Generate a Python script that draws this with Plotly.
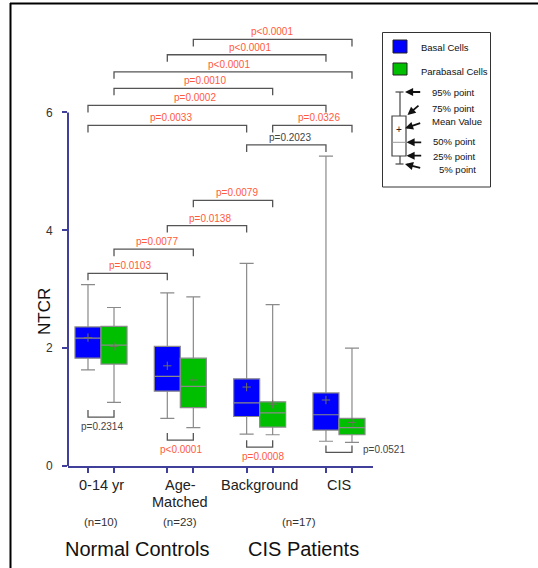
import plotly.graph_objects as go

# ---------------- data ----------------
groups = ["0-14 yr", "Age-\nMatched", "Background", "CIS"]
group_pos = [0, 1, 2, 3]

basal_upper = [3.08, 2.94, 3.44, 5.26]
basal_q3 = [2.36, 2.03, 1.48, 1.24]
basal_median = [2.17, 1.52, 1.07, 0.87]
basal_mean = [2.18, 1.70, 1.34, 1.12]
basal_q1 = [1.83, 1.27, 0.84, 0.61]
basal_lower = [1.63, 0.81, 0.54, 0.42]

para_upper = [2.69, 2.87, 2.74, 2.00]
para_q3 = [2.37, 1.83, 1.09, 0.81]
para_median = [2.05, 1.35, 0.90, 0.65]
para_mean = [2.03, 1.46, 1.05, 0.74]
para_q1 = [1.73, 0.99, 0.66, 0.53]
para_lower = [1.08, 0.65, 0.53, 0.40]

n_labels = ["(n=10)", "(n=23)", "(n=17)"]
n_pos = [0, 1, 2.49]
super_labels = ["Normal Controls", "CIS Patients"]
super_pos = [0.46, 2.55]

y_ticks = [0, 2, 4, 6]

# p-value brackets: (box index a, box index b, level, label, significant, label x shift px)
# box index: 2*g for basal, 2*g+1 for parabasal
top_brackets = [
    (3, 7, 7.24, "p<0.0001", True, -1),
    (2, 6, 6.98, "p<0.0001", True, 3),
    (1, 7, 6.69, "p<0.0001", True, -4),
    (1, 5, 6.41, "p=0.0010", True, 12),
    (0, 6, 6.12, "p=0.0002", True, -12),
    (0, 4, 5.78, "p=0.0033", True, 4),
    (5, 7, 5.78, "p=0.0326", True, 7),
    (4, 6, 5.45, "p=0.2023", False, 4),
    (3, 5, 4.51, "p=0.0079", True, 4),
    (2, 4, 4.08, "p=0.0138", True, 3),
    (1, 3, 3.68, "p=0.0077", True, 3),
    (0, 2, 3.27, "p=0.0103", True, 2),
]
bottom_brackets = [
    (0, 1, 0.83, "p=0.2314", False, 1),
    (2, 3, 0.44, "p<0.0001", True, 1),
    (4, 5, 0.32, "p=0.0008", True, 3),
]
side_brackets = [
    (6, 7, 0.23, "p=0.0521", False),
]

# ---------------- style / layout ----------------
W, H = 538, 568
ML, MR, MT, MB = 68, 165, 30, 102
PW, PH = W - ML - MR, H - MT - MB
YMAX = 7.4
XMIN, XMAX = -0.416, 3.429
OFF = 0.164
BW = 0.328
UPX = YMAX / PH  # data units per pixel

FONT = "Liberation Sans, Arial, sans-serif"
AXC = "#40409a"
RED = "#ff5a3c"
GREY_T = "#444444"
BRC = "#555555"
BOXLINE = "#8a8a8a"


def px2x(px):
    return (px - ML) / PW


def px2y(py):
    return (H - MB - py) / PH


def box_x(i):
    g = group_pos[i // 2]
    return g - OFF if i % 2 == 0 else g + OFF


fig = go.Figure()

basal_x = [g - OFF for g in group_pos]
para_x = [g + OFF for g in group_pos]

fig.add_trace(go.Box(
    x=basal_x, q1=basal_q1, median=basal_median, q3=basal_q3,
    lowerfence=basal_lower, upperfence=basal_upper,
    width=BW, whiskerwidth=0.54, fillcolor="#0000ff",
    line=dict(color=BOXLINE, width=1.2), name="Basal Cells", showlegend=False,
    hoverinfo="skip",
))
fig.add_trace(go.Box(
    x=para_x, q1=para_q1, median=para_median, q3=para_q3,
    lowerfence=para_lower, upperfence=para_upper,
    width=BW, whiskerwidth=0.54, fillcolor="#00bf00",
    line=dict(color=BOXLINE, width=1.2), name="Parabasal Cells", showlegend=False,
    hoverinfo="skip",
))
fig.add_trace(go.Scatter(
    x=basal_x + para_x, y=basal_mean + para_mean, mode="markers",
    marker=dict(symbol="cross-thin", size=6, line=dict(color="#707060", width=1)),
    showlegend=False, hoverinfo="skip",
))

shapes = []
annotations = []

TICK = 7 * UPX
for a, b, lvl, lab, sig, xs in top_brackets:
    xa, xb = box_x(a), box_x(b)
    shapes.append(dict(type="path", xref="x", yref="y",
                       path=f"M {xa},{lvl - TICK} L {xa},{lvl} L {xb},{lvl} L {xb},{lvl - TICK}",
                       line=dict(color=BRC, width=1.3)))
    annotations.append(dict(x=(xa + xb) / 2, y=lvl, xref="x", yref="y", text=lab,
                            showarrow=False, xanchor="center", yanchor="middle", yshift=7.5, xshift=xs,
                            font=dict(family=FONT, size=10, color=RED if sig else GREY_T)))
for a, b, lvl, lab, sig, xs in bottom_brackets:
    xa, xb = box_x(a), box_x(b)
    shapes.append(dict(type="path", xref="x", yref="y",
                       path=f"M {xa},{lvl + TICK} L {xa},{lvl} L {xb},{lvl} L {xb},{lvl + TICK}",
                       line=dict(color=BRC, width=1.3)))
    annotations.append(dict(x=(xa + xb) / 2, y=lvl, xref="x", yref="y", text=lab,
                            showarrow=False, xanchor="center", yanchor="middle", yshift=-9.5, xshift=xs,
                            font=dict(family=FONT, size=10, color=RED if sig else GREY_T)))
for a, b, lvl, lab, sig in side_brackets:
    xa, xb = box_x(a), box_x(b)
    shapes.append(dict(type="path", xref="x", yref="y",
                       path=f"M {xa},{lvl + TICK} L {xa},{lvl} L {xb},{lvl} L {xb},{lvl + TICK}",
                       line=dict(color=BRC, width=1.3)))
    annotations.append(dict(x=xb, y=lvl, xref="x", yref="y", text=lab,
                            showarrow=False, xanchor="left", yanchor="middle", yshift=3, xshift=9,
                            font=dict(family=FONT, size=10, color=RED if sig else GREY_T)))

# manual y axis line (0..6)
shapes.append(dict(type="line", xref="paper", yref="y", x0=0, x1=0, y0=0, y1=6,
                   line=dict(color=AXC, width=2)))

# figure frame (top and left)
shapes.append(dict(type="line", xref="paper", yref="paper", x0=px2x(10), x1=px2x(540),
                   y0=px2y(3.5), y1=px2y(3.5), line=dict(color="black", width=2)))
shapes.append(dict(type="line", xref="paper", yref="paper", x0=px2x(10.5), x1=px2x(10.5),
                   y0=px2y(3), y1=px2y(570), line=dict(color="black", width=2)))

# category labels
for g, lab in zip(group_pos, groups):
    for k, line in enumerate(lab.split("\n")):
        annotations.append(dict(x=g, y=px2y(484.5 + 17 * k), xref="x", yref="paper",
                                text=line, showarrow=False, xanchor="center", yanchor="middle",
                                font=dict(family=FONT, size=14.5, color="#222")))
for g, lab in zip(n_pos, n_labels):
    annotations.append(dict(x=g, y=px2y(521.5), xref="x", yref="paper", text=lab,
                            showarrow=False, xanchor="center", yanchor="middle",
                            font=dict(family=FONT, size=11.5, color="#333")))
for g, lab in zip(super_pos, super_labels):
    annotations.append(dict(x=g, y=px2y(548.5), xref="x", yref="paper", text=lab,
                            showarrow=False, xanchor="center", yanchor="middle",
                            font=dict(family=FONT, size=20, color="#111")))

# y title
annotations.append(dict(x=px2x(44), y=px2y(312), xref="paper", yref="paper", text="NTCR",
                        textangle=-90, showarrow=False, xanchor="center", yanchor="middle",
                        font=dict(family=FONT, size=17, color="#111")))

# ---------------- legend / key (drawn) ----------------
LC = "#333333"
shapes.append(dict(type="rect", xref="paper", yref="paper", x0=px2x(382.5), x1=px2x(490.5),
                   y0=px2y(32.5), y1=px2y(187), line=dict(color=LC, width=1), fillcolor="white"))
shapes.append(dict(type="rect", xref="paper", yref="paper", x0=px2x(393), x1=px2x(407),
                   y0=px2y(40), y1=px2y(53), line=dict(color="#222", width=1), fillcolor="#0000ff"))
shapes.append(dict(type="rect", xref="paper", yref="paper", x0=px2x(393), x1=px2x(407),
                   y0=px2y(63), y1=px2y(75), line=dict(color="#222", width=1), fillcolor="#00bf00"))
for txt, py in [("Basal Cells", 48), ("Parabasal Cells", 71)]:
    annotations.append(dict(x=px2x(419), y=px2y(py), xref="paper", yref="paper", text=txt,
                            showarrow=False, xanchor="left", yanchor="middle",
                            font=dict(family=FONT, size=9.5, color="#111")))
# schematic box
KC = "#444444"
shapes += [
    dict(type="line", xref="paper", yref="paper", x0=px2x(400), x1=px2x(400),
         y0=px2y(92), y1=px2y(116), line=dict(color=KC, width=1.2)),
    dict(type="line", xref="paper", yref="paper", x0=px2x(400), x1=px2x(400),
         y0=px2y(156), y1=px2y(164), line=dict(color=KC, width=1.2)),
    dict(type="line", xref="paper", yref="paper", x0=px2x(395.5), x1=px2x(403.5),
         y0=px2y(92), y1=px2y(92), line=dict(color=KC, width=1.2)),
    dict(type="line", xref="paper", yref="paper", x0=px2x(395.5), x1=px2x(403.5),
         y0=px2y(164), y1=px2y(164), line=dict(color=KC, width=1.2)),
    dict(type="rect", xref="paper", yref="paper", x0=px2x(392), x1=px2x(406),
         y0=px2y(116), y1=px2y(156), line=dict(color=KC, width=1.2), fillcolor="white"),
    dict(type="line", xref="paper", yref="paper", x0=px2x(392), x1=px2x(406),
         y0=px2y(142.3), y1=px2y(142.3), line=dict(color="#999", width=1)),
]
annotations.append(dict(x=px2x(399), y=px2y(129), xref="paper", yref="paper", text="+",
                        showarrow=False, xanchor="center", yanchor="middle",
                        font=dict(family=FONT, size=10, color="#222")))
key_items = [
    ("95% point", (405, 92), (421.7, 92), (430, 92.3)),
    ("75% point", (407.5, 115), (420, 104.3), (430, 108.3)),
    ("Mean Value", (405, 128.3), (421.7, 122.7), (430, 121.7)),
    ("50% point", (406.5, 142.3), (422.7, 142.3), (431, 141.7)),
    ("25% point", (406.5, 155.7), (422.7, 155.7), (431, 156)),
    ("5% point", (405, 164), (421.7, 168.3), (436.7, 170)),
]
for txt, head, tail, tpos in key_items:
    annotations.append(dict(x=px2x(head[0]), y=px2y(head[1]), xref="paper", yref="paper",
                            ax=tail[0] - head[0], ay=tail[1] - head[1], text="",
                            showarrow=True, arrowhead=2, arrowsize=0.9, arrowwidth=1.8,
                            arrowcolor="#111"))
    annotations.append(dict(x=px2x(tpos[0]), y=px2y(tpos[1]), xref="paper", yref="paper",
                            text=txt, showarrow=False, xanchor="left", yanchor="middle",
                            font=dict(family=FONT, size=9.5, color="#111")))

fig.update_layout(
    width=W, height=H,
    margin=dict(l=ML, r=MR, t=MT, b=MB, pad=0),
    paper_bgcolor="white", plot_bgcolor="white",
    boxmode="overlay",
    shapes=shapes, annotations=annotations,
    xaxis=dict(range=[XMIN, XMAX], showgrid=False, zeroline=False, showline=True,
               linecolor=AXC, linewidth=2, ticks="outside", ticklen=5, tickwidth=1.5,
               tickcolor=AXC, tickvals=basal_x + para_x, showticklabels=False, fixedrange=True),
    yaxis=dict(range=[0, YMAX], showgrid=False, zeroline=False, showline=False,
               ticks="outside", ticklen=5, tickwidth=1.5, tickcolor=AXC,
               tickvals=y_ticks, ticktext=[str(v) for v in y_ticks],
               ticklabelstandoff=7,
               tickfont=dict(family=FONT, size=12, color="#333"), fixedrange=True),
    font=dict(family=FONT),
)

fig.write_html("out.html", config={"displayModeBar": False},
               post_script="document.body.style.margin='0px';document.body.style.overflow='hidden';")
